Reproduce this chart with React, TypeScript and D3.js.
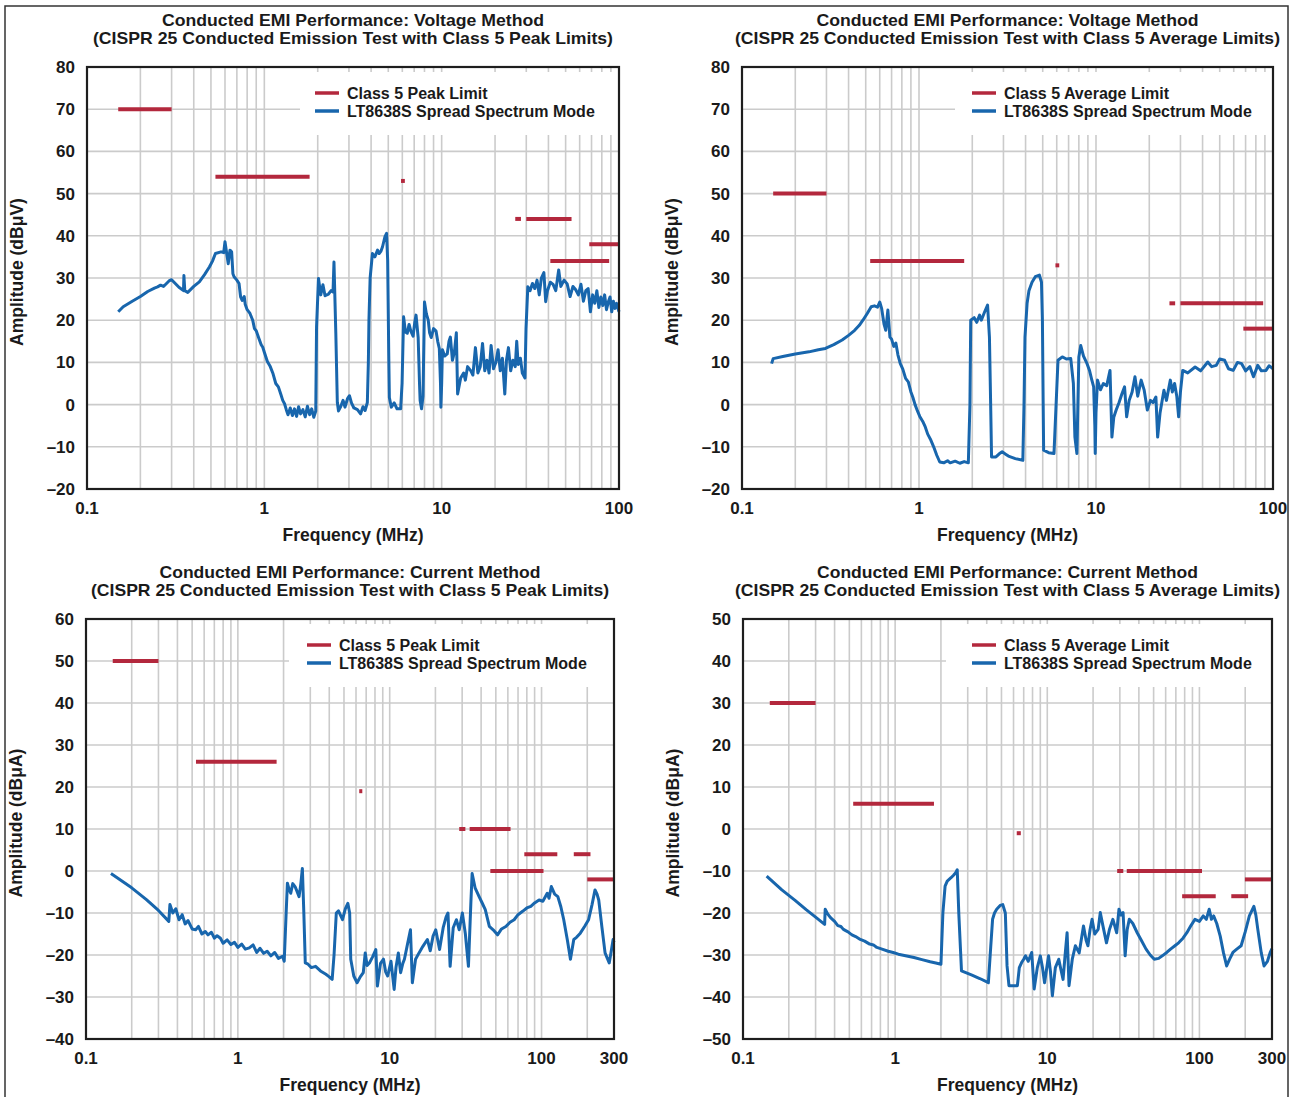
import * as d3 from "d3";

const W = 1295;
const H = 1097;
const FONT = "'Liberation Sans', Arial, Helvetica, sans-serif";
const BLUE = "#1866ad";
const RED = "#b3283d";
const GRID = "#cbcbcb";

// [freq MHz, dB]
const voltPeak: [number, number][] = [
  [0.15, 22], [0.16, 23.2], [0.18, 24.5], [0.2, 25.6], [0.22, 26.8], [0.24, 27.6], [0.25, 27.9], [0.26, 28.3],
  [0.27, 28.0], [0.29, 29.3], [0.3, 29.6], [0.33, 27.8], [0.35, 27.0], [0.352, 30.6], [0.356, 27.0], [0.37, 26.6],
  [0.4, 28.0], [0.43, 29.1], [0.46, 30.8], [0.49, 32.6], [0.51, 34.0], [0.53, 35.8], [0.57, 36.2], [0.59, 36.0],
  [0.6, 38.6], [0.615, 35.5], [0.626, 33.4], [0.64, 36.6], [0.654, 36.2], [0.665, 31.0], [0.675, 30.3], [0.7, 29.5],
  [0.72, 28.7], [0.735, 25.5], [0.75, 24.7], [0.77, 25.6], [0.78, 23.8], [0.8, 22.5], [0.83, 21.6], [0.86, 20.0],
  [0.88, 18.0], [0.9, 17.5], [0.93, 15.8], [0.96, 14.2], [0.98, 13.6], [1.0, 12.4], [1.04, 10.2], [1.08, 9.0],
  [1.12, 7.3], [1.16, 5.0], [1.2, 4.2], [1.24, 2.4], [1.27, 1.0], [1.3, 0.2], [1.33, -1.2], [1.36, -2.4],
  [1.4, -0.8], [1.44, -2.6], [1.48, -1.0], [1.52, -2.8], [1.56, -0.5], [1.6, -2.2], [1.65, -1.2], [1.7, -2.9],
  [1.75, -0.4], [1.8, -2.4], [1.85, -1.0], [1.9, -3.0], [1.95, -1.5], [1.97, 18.4], [2.02, 29.9], [2.08, 26.0],
  [2.14, 28.4], [2.2, 25.8], [2.3, 26.2], [2.38, 27.0], [2.44, 26.7], [2.47, 33.8], [2.53, 16.9], [2.58, 0.5],
  [2.62, -1.5], [2.7, -0.4], [2.78, 1.0], [2.85, -0.6], [2.95, 1.5], [3.02, 2.1], [3.1, 0.4], [3.2, -0.8],
  [3.35, -1.2], [3.49, -2.2], [3.6, -0.5], [3.7, -1.4], [3.81, 0.5], [3.86, 10.0], [3.89, 20.0], [3.95, 30.0],
  [4.07, 35.8], [4.2, 35.0], [4.35, 36.6], [4.44, 35.8], [4.55, 36.4], [4.64, 37.4], [4.79, 39.8], [4.89, 40.6],
  [4.96, 34.2], [5.03, 12.0], [5.07, 1.7], [5.2, -0.6], [5.4, 0.4], [5.6, -1.0], [5.87, -1.0], [5.98, 5.0],
  [6.1, 20.8], [6.25, 17.2], [6.4, 16.9], [6.55, 19.0], [6.7, 17.4], [6.9, 16.2], [7.05, 19.5], [7.17, 21.2],
  [7.37, 15.9], [7.5, 5.0], [7.56, 1.0], [7.7, -1.0], [7.85, 2.0], [8.0, 24.3], [8.2, 21.5], [8.4, 20.0],
  [8.55, 17.0], [8.73, 15.9], [9.0, 18.0], [9.3, 17.4], [9.5, 15.0], [9.7, 13.3], [9.85, 5], [9.9, -0.6],
  [10.0, 5], [10.1, 13.0], [10.4, 11.5], [10.75, 12.0], [11.0, 15.0], [11.2, 16.0], [11.5, 10.5], [11.8, 12.5],
  [12.1, 17.0], [12.3, 2.5], [12.8, 6.3], [13.3, 7.5], [13.6, 5.8], [14.0, 9.0], [14.6, 8.0], [15.0, 7.0],
  [15.5, 13.5], [16.0, 7.5], [16.5, 9.0], [17.0, 14.5], [17.5, 8.0], [18.0, 10.5], [18.5, 7.5], [19.0, 14.0],
  [19.6, 8.5], [20.2, 10.0], [20.8, 13.0], [21.4, 8.0], [22.0, 11.0], [22.7, 2.5], [23.2, 10.5], [23.8, 13.5],
  [24.5, 8.0], [25.2, 10.5], [26.0, 9.0], [26.5, 15.0], [27.0, 9.5], [27.8, 11.0], [28.5, 7.5], [29.5, 6.3],
  [29.9, 18.0], [30.6, 27.9], [31.5, 27.0], [32.5, 28.7], [33.5, 27.5], [34.5, 29.5], [35.5, 26.0], [36.5, 30.0],
  [37.7, 31.3], [38.6, 24.4], [39.5, 27.0], [41, 29.0], [42.5, 28.5], [44, 27.0], [45.7, 31.9], [47, 28.0],
  [49, 29.5], [51, 28.6], [53, 25.6], [55, 28.0], [57, 27.2], [59, 26.0], [61, 28.5], [63, 24.5], [65, 27.0],
  [67, 27.5], [69, 22.0], [71, 26.0], [73, 24.0], [75, 27.0], [77, 23.0], [79, 25.5], [81, 23.5], [83, 26.0],
  [85, 22.5], [87, 24.3], [89, 25.5], [91, 22.0], [93, 24.5], [95, 22.8], [97, 24.0], [100, 22.0],
];

const voltAvg: [number, number][] = [
  [0.147, 9.7], [0.15, 10.9], [0.17, 11.4], [0.2, 12.0], [0.239, 12.5], [0.27, 13.0], [0.296, 13.3], [0.33, 14.2],
  [0.368, 15.3], [0.4, 16.4], [0.433, 17.6], [0.46, 18.8], [0.482, 20.0], [0.51, 21.6], [0.537, 23.2], [0.56, 23.4],
  [0.583, 23.1], [0.6, 24.3], [0.615, 22.8], [0.635, 19.0], [0.649, 17.6], [0.667, 22.4], [0.685, 16.0], [0.7, 15.5],
  [0.72, 13.8], [0.74, 14.6], [0.76, 11.8], [0.784, 9.7], [0.81, 8.4], [0.84, 6.2], [0.87, 5.4], [0.9, 3.0],
  [0.922, 1.8], [0.95, 0.0], [0.98, -1.5], [1.01, -2.8], [1.05, -4.0], [1.085, -5.3], [1.12, -7.0], [1.16, -8.2],
  [1.21, -10.0], [1.26, -12.0], [1.31, -13.6], [1.38, -13.8], [1.45, -13.3], [1.5, -13.8], [1.6, -13.4], [1.7, -13.9],
  [1.8, -13.5], [1.9, -13.8], [1.94, 0], [1.96, 20.0], [2.05, 20.6], [2.12, 19.5], [2.2, 21.2], [2.25, 20.0],
  [2.35, 22.0], [2.44, 23.6], [2.5, 16.0], [2.54, 0], [2.57, -12.4], [2.72, -12.4], [2.85, -11.6], [2.95, -11.2],
  [3.1, -11.8], [3.2, -12.2], [3.5, -12.8], [3.86, -13.2], [3.92, 0], [3.97, 16.0], [4.08, 24.0], [4.18, 27.0],
  [4.35, 29.0], [4.54, 30.3], [4.79, 30.7], [4.92, 29.0], [4.98, 20.0], [5.03, 0], [5.06, -10.8], [5.4, -11.4],
  [5.79, -11.6], [5.95, 0], [6.1, 10.5], [6.45, 11.3], [6.8, 10.8], [7.2, 10.9], [7.45, 5], [7.6, -7.7],
  [7.8, -11.6], [7.9, 0], [8.0, 11.3], [8.2, 14.0], [8.5, 11.5], [8.9, 9.7], [9.2, 8.0], [9.45, 6.0],
  [9.7, 4.2], [9.85, -5], [9.9, -11.6], [10.0, -2], [10.2, 5.8], [10.6, 3.5], [11.0, 5.0], [11.5, 4.5],
  [12.0, 8.1], [12.3, -7.7], [12.6, -3.0], [13.0, -1.3], [13.5, 0.5], [14.0, 2.5], [14.5, 4.2], [14.9, -2.9],
  [15.4, 1.0], [16.0, 3.0], [16.6, 6.6], [17.2, 2.0], [18.0, 5.8], [18.7, 3.5], [19.5, -1.3], [20.3, 1.0],
  [21.0, 0.5], [21.8, 1.8], [22.3, -7.7], [23.0, -2.0], [24.2, 3.4], [25.0, 1.0], [26.3, 5.8], [27.0, 3.0],
  [27.8, 5.0], [28.6, 2.0], [29.3, -2.9], [30.0, 3], [30.9, 8.1], [33, 7.5], [36.3, 8.9], [39, 8.0],
  [42.8, 10.1], [45, 9.0], [47.8, 9.3], [50, 10.8], [53.3, 10.5], [56, 8.5], [59.6, 8.1], [63, 10.0],
  [66.5, 9.7], [70, 8.0], [74, 9.0], [77.6, 6.6], [82, 9.3], [86, 8.0], [91.3, 8.1], [95, 9.2], [100, 8.5],
];

const currPeak: [number, number][] = [
  [0.146, -0.6], [0.2, -4.0], [0.25, -6.8], [0.3, -9.4], [0.351, -12.0], [0.357, -8.0], [0.373, -10.0], [0.39, -9.0],
  [0.41, -11.6], [0.43, -10.4], [0.45, -12.6], [0.47, -11.8], [0.5, -13.8], [0.527, -14.0], [0.55, -13.2], [0.58, -15.0],
  [0.61, -14.4], [0.636, -15.2], [0.67, -14.6], [0.7, -16.0], [0.73, -15.4], [0.768, -16.0], [0.8, -17.2], [0.85, -16.4],
  [0.9, -17.5], [0.95, -17.0], [1.0, -18.2], [1.06, -17.4], [1.12, -18.6], [1.19, -18.3], [1.26, -17.6], [1.33, -19.4],
  [1.4, -18.4], [1.48, -19.6], [1.56, -19.1], [1.65, -20.2], [1.75, -19.4], [1.85, -20.8], [1.97, -20.3], [2.02, -21.5],
  [2.08, -10], [2.12, -2.9], [2.18, -4.5], [2.23, -5.3], [2.3, -3.0], [2.38, -3.7], [2.45, -4.8], [2.53, -6.1],
  [2.6, -3], [2.66, 0.6], [2.72, -10], [2.78, -21.9], [2.9, -22.2], [3.05, -23.0], [3.25, -22.7], [3.5, -23.8],
  [3.8, -24.6], [4.0, -25.2], [4.18, -25.8], [4.3, -20], [4.45, -10.0], [4.6, -9.5], [4.89, -11.6], [5.1, -9.0],
  [5.3, -7.7], [5.45, -10], [5.54, -21.0], [5.8, -25.0], [6.1, -26.6], [6.4, -25.2], [6.7, -24.2], [6.9, -19.5],
  [7.1, -22.5], [7.35, -21.9], [7.7, -20.5], [8.1, -18.7], [8.3, -27.4], [8.7, -22.0], [9.1, -21.0], [9.4, -24.0],
  [9.7, -25.0], [10.2, -21.5], [10.7, -28.2], [11.0, -23.0], [11.4, -19.5], [11.8, -24.2], [12.2, -22.0], [12.5, -21.0],
  [13.0, -18.0], [13.7, -14.0], [14.1, -26.6], [14.8, -21.0], [15.6, -19.5], [16.5, -18.0], [17.7, -16.3], [18.5, -19.0],
  [19.3, -15.5], [20.1, -14.0], [21.3, -18.7], [22.5, -13.5], [23.5, -11.0], [24.2, -10.0], [25.0, -22.7], [26.2, -13.5],
  [27.5, -11.6], [28.7, -14.0], [30.1, -10.0], [31.5, -15.0], [33.0, -22.7], [34.2, -8], [34.9, -0.6], [36.5, -4.0],
  [38.8, -6.1], [40.5, -7.5], [42.6, -9.2], [45.3, -13.2], [48, -14.0], [51.3, -15.2], [54.5, -13.8], [58.2, -13.2],
  [62, -12.2], [66, -11.6], [70, -10.4], [75, -9.6], [80, -8.8], [85, -8.4], [90, -7.6], [96.3, -6.9],
  [102, -7.2], [109, -5.3], [112, -6.5], [116, -3.7], [122, -5.5], [128, -6.1], [134, -8.5], [140, -11.6],
  [148, -16.5], [155, -21.0], [163, -16.3], [170, -15.8], [180, -14.8], [192, -13.2], [204, -11.6], [215, -8.0],
  [225, -4.5], [232, -5.5], [238, -6.9], [250, -13.5], [262, -19.5], [279, -21.9], [288, -19.0], [296, -16.3], [300, -17],
];

const currAvg: [number, number][] = [
  [0.143, -11.2], [0.18, -14.5], [0.22, -17.0], [0.26, -19.2], [0.3, -21.0], [0.344, -22.7], [0.347, -19.1], [0.36, -20.2],
  [0.376, -21.1], [0.4, -22.0], [0.42, -23.0], [0.44, -23.2], [0.457, -23.9], [0.49, -24.5], [0.52, -25.2], [0.55, -25.6],
  [0.59, -26.3], [0.63, -26.7], [0.68, -27.4], [0.72, -27.6], [0.758, -28.2], [0.82, -28.6], [0.9, -29.1], [0.97, -29.4],
  [1.05, -29.8], [1.15, -30.1], [1.33, -30.6], [1.5, -31.1], [1.7, -31.6], [1.85, -31.9], [2.0, -32.2], [2.06, -20],
  [2.13, -13.6], [2.2, -12.4], [2.33, -11.6], [2.42, -11.0], [2.5, -10.4], [2.56, -9.7], [2.62, -20], [2.73, -33.8],
  [3.2, -34.8], [3.6, -35.6], [4.1, -36.6], [4.25, -28], [4.37, -21.5], [4.5, -20.0], [4.65, -19.1], [4.9, -18.2],
  [5.1, -18.0], [5.3, -20], [5.44, -32.6], [5.6, -37.3], [6.0, -37.3], [6.36, -37.3], [6.55, -33], [6.78, -31.8],
  [7.0, -31.0], [7.2, -30.2], [7.5, -31.5], [7.9, -29.4], [8.2, -38.1], [8.6, -33.0], [9.0, -30.2], [9.3, -33.0],
  [9.6, -36.6], [10.2, -30.2], [10.5, -34.0], [10.8, -39.7], [11.3, -33.0], [11.9, -31.0], [12.3, -33.5], [12.7, -35.8],
  [13.1, -30.0], [13.5, -24.7], [13.9, -37.3], [14.6, -31.0], [15.3, -27.8], [16.2, -29.5], [17.3, -23.1], [18.0, -26.5],
  [18.5, -27.8], [19.1, -24.0], [19.7, -21.5], [20.5, -25.0], [21.6, -23.9], [22.3, -19.9], [23.2, -23.0], [24.5, -27.1],
  [25.6, -24.0], [27.0, -21.5], [28.6, -24.7], [29.6, -19.1], [30.5, -20.5], [31.5, -19.9], [32.5, -30.2], [33.5, -24.0],
  [34.6, -21.5], [36.5, -22.5], [39, -24.7], [41.5, -26.5], [44.6, -28.6], [47.5, -30.0], [50.5, -31.0], [54, -30.8],
  [57, -30.2], [61, -29.4], [64.6, -28.6], [69, -27.8], [73, -27.1], [78, -26.0], [82.7, -24.7], [88, -23.0],
  [93.5, -21.5], [100, -22.0], [106, -20.7], [111, -21.5], [116, -19.1], [120, -21.5], [124, -20.7], [130, -22.5],
  [137, -25.5], [144, -29.5], [151, -32.6], [158, -31.0], [166, -29.4], [176, -28.6], [188, -27.8], [200, -24.5],
  [213, -20.7], [228, -18.4], [235, -20.5], [242, -23.9], [255, -29.5], [266, -32.6], [280, -31.5], [292, -29.4], [300, -28.5],
];

// limit segments: [f start MHz, f end MHz, level dB]
const voltPeakLimits: [number, number, number][] = [
  [0.15, 0.3, 70], [0.53, 1.8, 54], [5.9, 6.2, 53], [26, 28, 44], [30, 54, 44], [41, 88, 34], [68, 108, 38],
];
const voltAvgLimits: [number, number, number][] = [
  [0.15, 0.3, 50], [0.53, 1.8, 34], [5.9, 6.2, 33], [26, 28, 24], [30, 88, 24], [68, 108, 18],
];
const currPeakLimits: [number, number, number][] = [
  [0.15, 0.3, 50], [0.53, 1.8, 26], [6.3, 6.6, 19], [28.7, 31.5, 10], [33.6, 62.5, 10], [46, 103, 0],
  [77, 127, 4], [163, 210, 4], [200, 300, -2],
];
const currAvgLimits: [number, number, number][] = [
  [0.15, 0.3, 30], [0.53, 1.8, 6], [6.3, 6.7, -1], [28.8, 31.6, -10], [33.3, 104, -10],
  [77, 128, -16], [162, 209, -16], [199, 300, -12],
];

const titlesTop = "Conducted EMI Performance: Voltage Method";
const titlesBottom = "Conducted EMI Performance: Current Method";
const peakSub = "(CISPR 25 Conducted Emission Test with Class 5 Peak Limits)";
const avgSub = "(CISPR 25 Conducted Emission Test with Class 5 Average Limits)";

type PanelProps = {
  left: number;
  right: number;
  top: number;
  bottom: number;
  fMax: number;
  yMin: number;
  yMax: number;
  xTicks: number[];
  title: string;
  subtitle: string;
  titleW: number;
  subW: number;
  yLabel: string;
  limitLabel: string;
  data: [number, number][];
  limits: [number, number, number][];
  legendX: number;
  boxX: number;
};

const fmtTick = (v: number) => (v < 0 ? "\u2013" + Math.abs(v) : String(v));

function Panel(p: PanelProps) {
  const x = d3.scaleLog().domain([0.1, p.fMax]).range([p.left, p.right]);
  const y = d3.scaleLinear().domain([p.yMin, p.yMax]).range([p.bottom, p.top]);
  const grid: number[] = [];
  for (let dec = 0.1; dec < p.fMax; dec *= 10) {
    for (let m = 1; m <= 9; m++) {
      const f = +(dec * m).toPrecision(3);
      if (f > 0.1 && f < p.fMax) grid.push(f);
    }
  }
  const yTicks = d3.range(p.yMin, p.yMax + 1, 10);
  const line = d3
    .line<[number, number]>()
    .x((d) => x(d[0]))
    .y((d) => y(d[1]));
  const cx = (p.left + p.right) / 2;
  const cy = (p.top + p.bottom) / 2;
  const boxBottom = p.top + 67;
  return (
    <g fontFamily={FONT} fontWeight="bold" fill="#1a1a1a">
      <text x={cx} y={p.top - 41} textAnchor="middle" fontSize={17} textLength={p.titleW} lengthAdjust="spacingAndGlyphs">
        {p.title}
      </text>
      <text x={cx} y={p.top - 23} textAnchor="middle" fontSize={17} textLength={p.subW} lengthAdjust="spacingAndGlyphs">
        {p.subtitle}
      </text>
      {yTicks.map((t) => (
        <line key={"h" + t} x1={p.left} x2={p.right} y1={y(t)} y2={y(t)} stroke={GRID} strokeWidth={1.6} />
      ))}
      {grid.map((f) => (
        <line key={"v" + f} x1={x(f)} x2={x(f)} y1={p.top} y2={p.bottom} stroke={GRID} strokeWidth={1.6} />
      ))}
      <rect x={p.boxX} y={p.top + 1} width={p.right - p.boxX - 1} height={boxBottom - p.top} fill="#fff" />
      {grid
        .filter((f) => x(f) > p.boxX)
        .map((f) => (
          <line key={"t" + f} x1={x(f)} x2={x(f)} y1={p.top} y2={p.top + 5} stroke={GRID} strokeWidth={1.6} />
        ))}
      {p.limits.map(([f0, f1, v], i) => (
        <line
          key={"l" + i}
          x1={x(f0)}
          x2={x(Math.min(f1, p.fMax))}
          y1={y(v)}
          y2={y(v)}
          stroke={RED}
          strokeWidth={4}
        />
      ))}
      <path d={line(p.data) || ""} fill="none" stroke={BLUE} strokeWidth={3} strokeLinejoin="round" />
      <rect x={p.left} y={p.top} width={p.right - p.left} height={p.bottom - p.top} fill="none" stroke="#1e1e1e" strokeWidth={2.2} />
      <line x1={p.legendX} x2={p.legendX + 24} y1={p.top + 26} y2={p.top + 26} stroke={RED} strokeWidth={3.5} />
      <line x1={p.legendX} x2={p.legendX + 24} y1={p.top + 44} y2={p.top + 44} stroke={BLUE} strokeWidth={3.5} />
      <text x={p.legendX + 32} y={p.top + 31.5} fontSize={16}>
        {p.limitLabel}
      </text>
      <text x={p.legendX + 32} y={p.top + 49.5} fontSize={16}>
        LT8638S Spread Spectrum Mode
      </text>
      {yTicks.map((t) => (
        <text key={"yl" + t} x={p.left - 12} y={y(t) + 6} textAnchor="end" fontSize={17}>
          {fmtTick(t)}
        </text>
      ))}
      {p.xTicks.map((t) => (
        <text key={"xl" + t} x={x(t)} y={p.bottom + 25} textAnchor="middle" fontSize={17}>
          {String(t)}
        </text>
      ))}
      <text x={cx} y={p.bottom + 52} textAnchor="middle" fontSize={17.5}>
        Frequency (MHz)
      </text>
      <text
        transform={`translate(${p.left - 64},${cy - 6}) rotate(-90)`}
        textAnchor="middle"
        fontSize={17.5}
      >
        {p.yLabel}
      </text>
    </g>
  );
}

export default function App() {
  return (
    <div style={{ position: "absolute", left: 0, top: 0 }}>
      <svg width={W} height={H} style={{ display: "block", background: "#fff" }}>
        <rect width={W} height={H} fill="#fff" />
        <path d={`M5,${H} V6 H1288 V${H}`} fill="none" stroke="#333" strokeWidth={1.5} />
        <Panel
          left={87} right={619} top={67} bottom={489} fMax={100} yMin={-20} yMax={80}
          xTicks={[0.1, 1, 10, 100]} title={titlesTop} subtitle={peakSub} titleW={382} subW={520}
          yLabel="Amplitude (dBμV)" limitLabel="Class 5 Peak Limit"
          data={voltPeak} limits={voltPeakLimits} legendX={315} boxX={300}
        />
        <Panel
          left={742} right={1273} top={67} bottom={489} fMax={100} yMin={-20} yMax={80}
          xTicks={[0.1, 1, 10, 100]} title={titlesTop} subtitle={avgSub} titleW={382} subW={545}
          yLabel="Amplitude (dBμV)" limitLabel="Class 5 Average Limit"
          data={voltAvg} limits={voltAvgLimits} legendX={972} boxX={955}
        />
        <Panel
          left={86} right={614} top={619} bottom={1039} fMax={300} yMin={-40} yMax={60}
          xTicks={[0.1, 1, 10, 100, 300]} title={titlesBottom} subtitle={peakSub} titleW={381} subW={518}
          yLabel="Amplitude (dBμA)" limitLabel="Class 5 Peak Limit"
          data={currPeak} limits={currPeakLimits} legendX={307} boxX={289}
        />
        <Panel
          left={743} right={1272} top={619} bottom={1039} fMax={300} yMin={-50} yMax={50}
          xTicks={[0.1, 1, 10, 100, 300]} title={titlesBottom} subtitle={avgSub} titleW={381} subW={545}
          yLabel="Amplitude (dBμA)" limitLabel="Class 5 Average Limit"
          data={currAvg} limits={currAvgLimits} legendX={972} boxX={946}
        />
      </svg>
    </div>
  );
}
